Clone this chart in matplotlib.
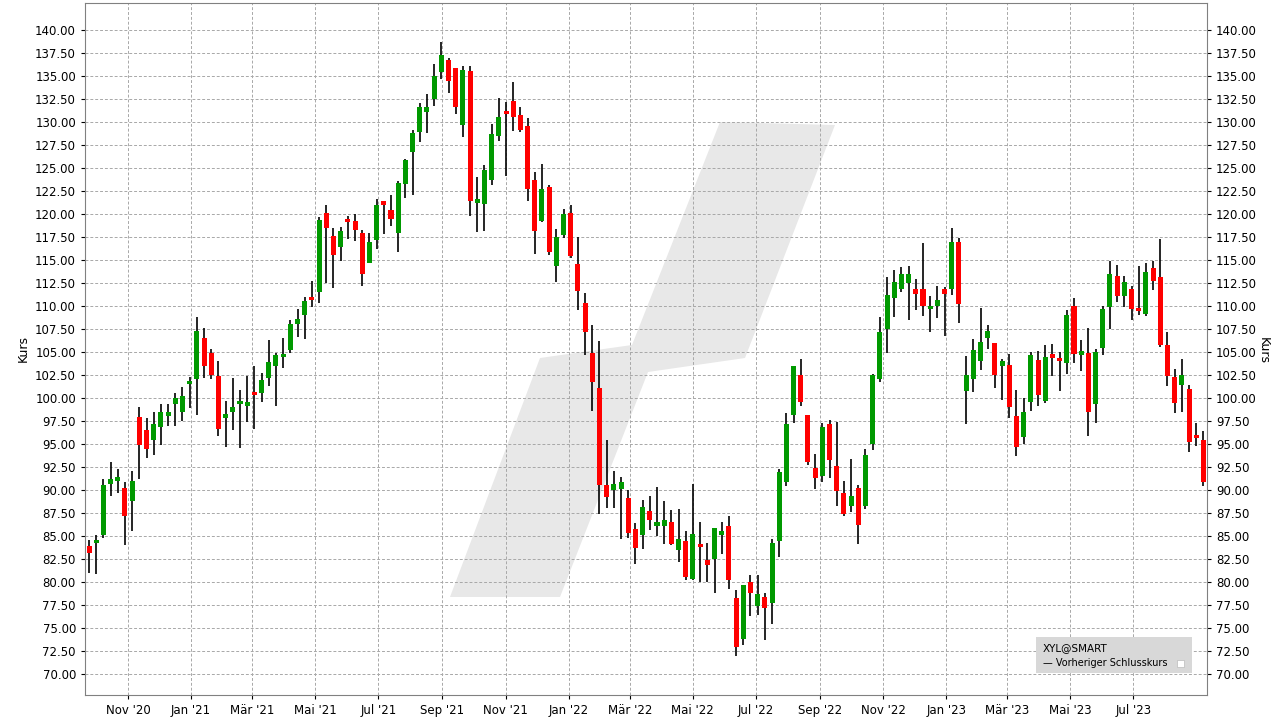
import matplotlib
matplotlib.use("Agg")
import matplotlib.pyplot as plt
from matplotlib.patches import Polygon, Rectangle
import numpy as np
import datetime as dt

opens = [83.9,84.2,85.1,90.6,91.0,90.2,88.8,97.9,96.5,95.4,96.8,98.0,99.3,98.4,101.5,102.0,106.5,104.9,102.4,97.8,98.4,99.3,
 99.1,100.5,100.5,102.1,103.5,104.4,105.2,108.0,109.0,111.0,111.5,120.1,117.6,116.4,119.3,119.2,117.9,114.7,117.1,121.1,120.4,117.9,
 123.2,126.7,128.9,131.1,132.5,135.4,136.7,135.8,129.6,135.5,121.2,121.1,123.7,128.4,131.0,132.3,130.7,129.5,123.7,119.2,122.9,114.3,
 117.7,120.1,114.5,110.3,104.9,101.1,90.5,90.0,90.1,89.1,85.7,85.1,87.7,86.1,86.1,86.5,83.5,84.4,80.3,84.0,82.4,
 82.5,85.1,86.1,78.2,73.8,80.0,77.4,78.3,77.7,84.4,90.9,98.1,102.5,98.1,92.4,91.5,97.1,92.6,89.6,88.2,90.2,88.2,95.0,
 102.0,107.5,110.8,111.8,112.5,111.8,111.8,109.6,110.0,111.8,111.8,116.9,100.7,102.0,104.0,106.5,105.9,103.4,103.6,98.0,95.7,99.5,
 104.1,99.6,104.8,104.2,103.8,110.0,104.7,104.9,99.3,105.4,109.9,113.2,111.1,111.8,109.7,109.1,114.1,113.1,105.7,102.3,101.4,101.0,95.9,95.4]
highs = [84.5,85.1,91.2,93.0,92.3,90.8,92.0,99.0,97.8,98.5,99.3,99.3,100.5,101.2,102.3,108.8,107.6,105.3,104.0,99.6,102.2,100.8,
 102.4,103.4,102.7,106.3,104.9,106.5,108.5,109.6,110.9,112.7,119.6,121.0,118.4,118.6,119.8,120.0,118.2,117.9,121.6,121.3,122.0,123.6,
 126.0,129.1,132.0,133.0,136.3,138.7,136.9,135.8,136.1,136.1,124.0,125.3,129.8,132.6,132.1,134.3,131.6,130.4,124.5,125.4,123.1,118.3,
 120.5,121.0,117.5,111.4,107.9,106.2,95.4,92.0,91.4,90.0,86.4,88.9,89.3,90.3,88.8,87.8,87.9,85.5,90.6,86.5,84.2,
 85.9,86.5,87.2,79.1,79.6,80.7,80.7,78.8,84.6,92.3,98.3,103.4,104.2,98.1,93.9,97.3,97.6,97.4,91.0,93.3,90.5,94.4,102.6,
 108.8,113.1,113.9,114.2,114.3,112.9,116.8,111.1,112.2,112.0,118.5,117.4,104.5,106.4,109.8,107.9,105.9,104.2,104.8,100.8,100.0,105.0,
 105.1,105.7,105.8,105.0,109.5,110.8,106.3,107.6,105.3,110.0,114.9,114.4,113.2,112.2,114.3,114.6,114.9,117.3,107.2,103.1,104.2,101.4,97.3,96.4]
lows = [81.0,80.8,84.8,89.3,89.7,84.0,85.5,91.2,93.5,93.8,94.9,96.9,96.9,97.5,98.9,98.1,102.1,102.0,95.9,94.7,96.5,94.5,
 97.4,96.6,99.5,101.3,99.1,103.2,104.9,106.6,106.4,109.9,110.3,112.5,111.9,114.9,117.2,117.0,112.1,114.6,116.2,117.8,118.7,115.8,
 121.7,122.0,127.8,128.8,131.7,134.6,133.1,130.8,128.3,119.7,118.0,118.1,123.1,127.9,124.1,129.0,128.9,121.4,115.6,119.1,115.5,112.6,
 117.4,115.2,109.5,104.7,98.6,87.4,88.0,88.0,84.6,84.8,81.9,83.6,85.6,85.0,84.1,84.0,82.2,80.2,80.2,80.0,80.0,
 78.8,83.0,79.2,71.9,73.1,76.3,76.4,73.7,75.4,82.7,90.4,97.3,99.1,92.7,90.1,90.8,91.3,88.2,87.1,87.6,84.1,87.9,94.3,
 101.7,104.9,108.8,111.5,108.5,109.5,108.9,107.1,108.7,106.7,111.2,108.1,97.2,100.6,103.0,105.3,101.1,99.8,97.8,93.7,95.0,98.6,
 99.1,99.4,102.4,100.7,102.6,103.8,102.9,95.9,97.3,104.7,107.5,110.4,109.9,108.4,109.0,108.9,111.7,105.5,101.3,98.3,98.4,94.1,94.8,90.4]
closes = [83.1,84.4,90.5,91.2,91.3,87.1,91.0,94.9,94.4,97.1,98.4,98.4,100.0,100.2,101.8,107.3,103.5,102.5,96.6,98.2,99.0,99.6,
 99.5,100.3,101.9,103.9,104.7,104.6,108.0,108.6,110.5,110.6,119.3,118.4,115.5,118.1,119.1,118.2,113.4,116.9,120.9,121.0,119.4,123.3,
 125.8,128.8,131.6,131.6,135.0,137.2,134.4,131.6,135.6,121.4,121.4,124.7,128.7,130.5,130.8,130.5,129.1,122.7,118.1,122.7,115.8,117.5,
 120.0,115.4,111.6,107.2,101.7,90.5,89.2,90.6,90.9,85.3,83.7,88.1,86.7,86.3,86.7,84.1,84.6,80.5,85.2,83.8,81.8,
 85.9,85.5,80.2,72.9,79.6,78.8,78.7,77.2,84.2,91.9,97.2,103.4,99.5,93.0,91.3,96.8,93.2,89.9,87.4,89.3,86.2,93.8,102.5,
 107.2,111.2,112.6,113.5,113.5,111.3,110.0,109.8,110.6,111.3,116.9,110.2,102.5,105.2,106.1,107.3,102.5,104.0,99.0,94.7,98.5,104.7,
 100.3,104.4,104.3,104.0,109.0,104.8,104.9,98.4,105.0,109.7,113.4,111.1,112.6,109.6,109.4,113.7,112.7,105.7,102.4,99.4,102.5,95.2,95.6,90.9]

month_labels = ["Nov '20","Jan '21","Mär '21","Mai '21","Jul '21","Sep '21","Nov '21","Jan '22","Mär '22","Mai '22",
                "Jul '22","Sep '22","Nov '22","Jan '23","Mär '23","Mai '23","Jul '23"]
month_dates = [dt.date(2020+(10+2*i)//12, (10+2*i)%12+1, 1) for i in range(17)]

n = len(opens)
x = np.arange(n)
ref = dt.date(2020, 11, 1)
tick_pos = [5.42 + (d - ref).days / 6.95 for d in month_dates]

fig = plt.figure(figsize=(12.8, 7.2), dpi=100)
ax = fig.add_axes([85/1280, 25/720, 1122/1280, 692/720])
ax.set_xlim(-0.56, 155.5)
ax.set_ylim(67.7, 142.9)

def px(xp, yp):
    return (xp/1280, 1 - yp/720)
poly = [px(450,597), px(560,597), px(648,372), px(745,358), px(835,125), px(720,122), px(632,345), px(540,358)]
ax.add_patch(Polygon(poly, closed=True, transform=fig.transFigure, facecolor="#e8e8e8",
                     edgecolor="none", zorder=0.1))

ax.grid(True, color="#a8a8a8", linestyle=(0, (3, 2)), linewidth=0.7, zorder=0.5)
ax.set_axisbelow(True)

w = 0.7
for i in range(n):
    o, h, l, c = opens[i], highs[i], lows[i], closes[i]
    col = "#009900" if c >= o else "#ff0000"
    ax.vlines(x[i], l, h, color="black", linewidth=1.2, zorder=2)
    b = min(o, c); hgt = max(abs(c - o), 0.35)
    ax.add_patch(Rectangle((x[i]-w/2, b), w, hgt, facecolor=col, edgecolor="none", zorder=3))

yt = np.arange(70, 140.01, 2.5)
ax.set_yticks(yt)
ax.set_yticklabels([f"{v:.2f}" for v in yt])
ax.tick_params(axis="y", which="both", labelleft=True, labelright=True, left=True, right=True, labelsize=8.5, length=3)
ax.set_xticks(tick_pos)
ax.set_xticklabels(month_labels)
ax.tick_params(axis="x", labelsize=8.5, length=3)
ax.set_ylabel("Kurs", fontsize=9)
fig.text(1263/1280, 1-350/720, "Kurs", fontsize=9, rotation=270, ha="center", va="center")
for s in ax.spines.values():
    s.set_color("#808080")

fig.patches.append(Rectangle(px(1036, 673), 156/1280, 36/720, transform=fig.transFigure,
                             facecolor="#d8d8d8", edgecolor="none", zorder=5))
fig.text(1043/1280, 1-648/720, "XYL@SMART", fontsize=7.5, va="center", zorder=6)
fig.text(1043/1280, 1-663/720, "\u2014 Vorheriger Schlusskurs", fontsize=7, va="center", zorder=6)
fig.patches.append(Rectangle(px(1177, 667), 7/1280, 7/720, transform=fig.transFigure,
                             facecolor="white", edgecolor="#bbbbbb", linewidth=0.5, zorder=6))

fig.savefig("out.png", dpi=100, facecolor="white")
